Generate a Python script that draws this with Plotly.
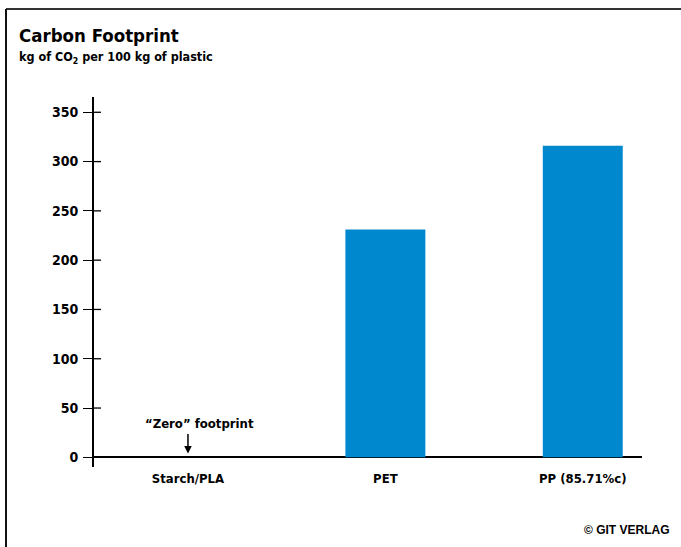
import plotly.graph_objects as go

categories = ["Starch/PLA", "PET", "PP (85.71%c)"]
values = [0, 231, 316]
y_ticks = [0, 50, 100, 150, 200, 250, 300, 350]

FONT = "Liberation Sans Narrow, Arial Narrow, DejaVu Sans Condensed, sans-serif"
BAR = "#0088cf"

# plot area in pixels
L, R, T, B = 94, 39, 97, 80
W, H = 681, 547
pw, ph = W - L - R, H - T - B
def px(x):
    return (x - L) / pw
def py(y):
    return (H - B - y) / ph

fig = go.Figure()
fig.add_trace(go.Bar(x=categories, y=values, marker=dict(color=BAR, line=dict(width=0)),
                     width=0.405, hoverinfo="skip"))

shapes = []
# inside part of y ticks
for v in y_ticks:
    shapes.append(dict(type="line", xref="paper", yref="y", xsizemode="pixel", xanchor=0,
                       x0=0, x1=7, y0=v, y1=v, line=dict(color="black", width=1.3)))
# frame lines
shapes.append(dict(type="line", xref="paper", yref="paper", x0=px(6), x1=px(681), y0=py(9), y1=py(9),
                   line=dict(color="#333333", width=2)))
shapes.append(dict(type="line", xref="paper", yref="paper", x0=px(6), x1=px(6), y0=py(9), y1=py(547),
                   line=dict(color="#111111", width=2)))

annotations = [
    dict(text="<b>Carbon Footprint</b>", xref="paper", yref="paper", x=px(17), y=py(36),
         xanchor="left", yanchor="middle", showarrow=False, font=dict(family=FONT, size=18.5, color="black")),
    dict(text="<b>kg of CO<sub>2</sub> per 100 kg of plastic</b>", xref="paper", yref="paper", x=px(17), y=py(57),
         xanchor="left", yanchor="middle", showarrow=False, font=dict(family=FONT, size=12.5, color="black")),
    dict(text="<b>“Zero” footprint</b>", xref="x", yref="paper", x=categories[0], y=py(423), xshift=12,
         xanchor="center", yanchor="middle", showarrow=False, font=dict(family=FONT, size=13, color="black")),
    dict(text="", xref="x", yref="y", x=categories[0], y=values[0] + 4, ax=0, ay=-21,
         showarrow=True, arrowhead=2, arrowsize=1, arrowwidth=1.5, arrowcolor="black"),
    dict(text="<b>© GIT VERLAG</b>", xref="paper", yref="paper", x=px(672), y=py(530),
         xanchor="right", yanchor="middle", showarrow=False,
         font=dict(family="Liberation Sans, Arial, sans-serif", size=12, color="black")),
]

fig.update_layout(
    width=W, height=H, margin=dict(l=L, r=R, t=T, b=B, pad=0),
    paper_bgcolor="white", plot_bgcolor="white", showlegend=False,
    font=dict(family=FONT, color="black"),
    shapes=shapes, annotations=annotations,
    xaxis=dict(type="category", range=[-0.476, 2.30], showgrid=False, showline=False, ticks="",
               zeroline=False, tickfont=dict(family=FONT, size=13, color="black", weight="bold"),
               ticklabelstandoff=2, fixedrange=True),
    yaxis=dict(range=[-9.8, 365.5], tickvals=y_ticks, ticktext=[str(v) for v in y_ticks],
               showgrid=False, showline=True, linecolor="black", linewidth=2,
               ticks="outside", ticklen=9, tickwidth=1.3, tickcolor="black",
               zeroline=True, zerolinecolor="black", zerolinewidth=2,
               tickfont=dict(family=FONT, size=14, color="black", weight="bold"),
               ticklabelstandoff=2, fixedrange=True),
)

fig.write_html("out.html")
